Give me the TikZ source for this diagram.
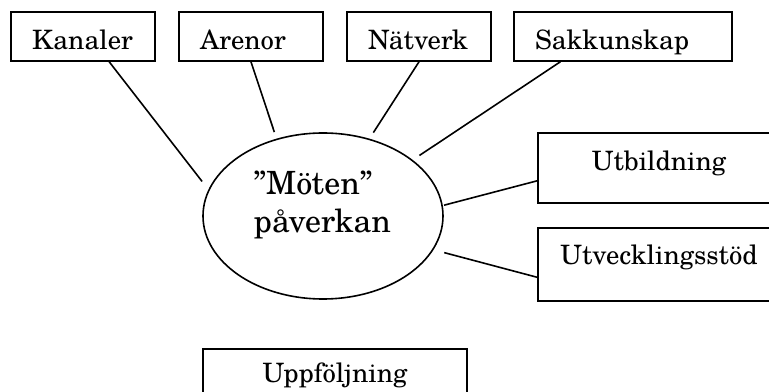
\documentclass[tikz,border=0pt]{standalone}
\usepackage{fontspec}
\setmainfont{texgyreschola-regular.otf}
\usepackage{tikz}
\usetikzlibrary{shapes}
\tikzset{
    topbox/.style = {rectangle, draw=black, line width=1.2pt, minimum height=36.75pt, text width=76.5pt, align=left, inner xsep=15.75pt, inner ysep=0pt, text height=20pt, text depth=0pt, font=\fontsize{20}{24}\selectfont},
    sidebox/.style = {rectangle, draw=black, line width=1.2pt, minimum width=181.5pt, minimum height=52.5pt, align=center, inner sep=0pt, text height=14pt, font=\fontsize{20}{24}\selectfont},
    mote/.style = {ellipse, draw=black, line width=1.2pt, minimum width=180pt, minimum height=124.5pt, inner sep=0pt, text width=104pt, align=left, text height=18pt, text depth=49.5pt, font=\fontsize{24}{28.5}\selectfont},
    link/.style = {line width=1.2pt, shorten >=6pt}
}
\begin{document}
\begin{tikzpicture}[x=0.75pt,y=-0.75pt]
\useasboundingbox (0,0) rectangle (769,392);
\clip (0,0) rectangle (769,392);
%
\node[topbox] at (83,36.5) (k) {Kanaler};
\node[topbox] at (251,36.5) (ar) {Arenor};
\node[topbox] at (419,36.5) (n) {Nätverk};
\node[topbox, text width=132pt] at (623,36.5) (s) {Sakkunskap};
\node[mote] at (323,216) (m) {”Möten”\\påverkan};
\node[sidebox, text depth=9.5pt] at (659,168) (u) {Utbildning};
\node[sidebox, minimum height=54.75pt, text depth=13.25pt] at (659,264.5) (uv) {Utvecklingsstöd};
\node[sidebox, minimum width=198pt, text depth=15.5pt] at (335,384) (f) {Uppföljning};
%
\draw[link, shorten >=7.7pt] (k.-44) -- (m.167);
\draw[link, shorten >=5.2pt] (ar.south) -- (m.121.6);
\draw[link, shorten >=5.4pt] (n.south) -- (m.59.6);
\draw[link] (s.-158) -- (m.32);
\draw[link, shorten >=0.9pt] (u.186) -- (m.5.6);
\draw[link, shorten >=8.3pt] (uv.186) -- (m.-17.4);
\end{tikzpicture}
\end{document}
